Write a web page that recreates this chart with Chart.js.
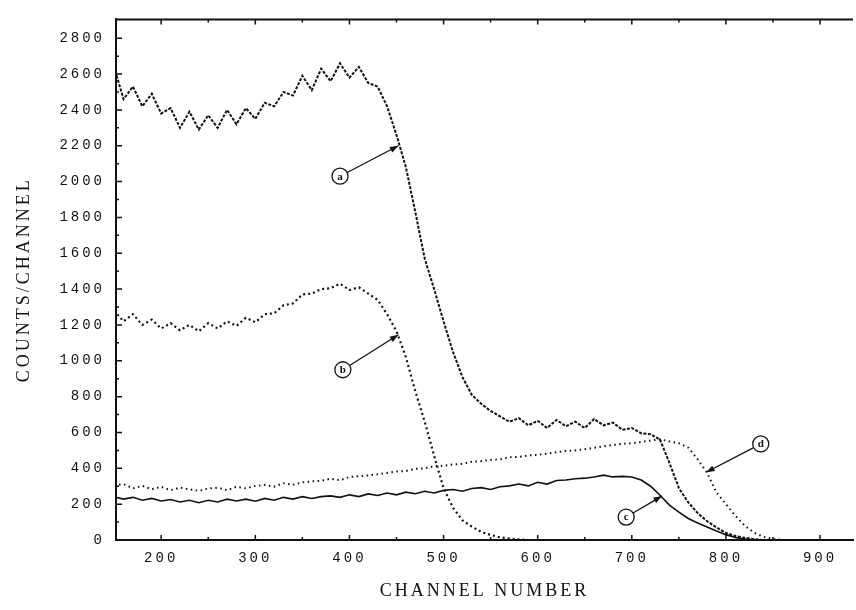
<!DOCTYPE html>
<html>
<head>
<meta charset="utf-8">
<title>Counts per channel</title>
<style>
  html, body { margin: 0; padding: 0; background: #fff; }
  #wrap { width: 856px; height: 610px; position: relative; }
</style>
<script src="https://cdn.jsdelivr.net/npm/chart.js@4.4.1/dist/chart.umd.min.js"></script>
</head>
<body>
<div id="wrap"><canvas id="spectrum"></canvas></div>
<script>
// channel numbers (every 10th channel)
const channels = [
  150, 160, 170, 180, 190, 200, 210, 220, 230, 240,
  250, 260, 270, 280, 290, 300, 310, 320, 330, 340,
  350, 360, 370, 380, 390, 400, 410, 420, 430, 440,
  450, 460, 470, 480, 490, 500, 510, 520, 530, 540,
  550, 560, 570, 580, 590, 600, 610, 620, 630, 640,
  650, 660, 670, 680, 690, 700, 710, 720, 730, 740,
  750, 760, 770, 780, 790, 800, 810, 820, 830, 840,
  850, 860, 870, 880, 890, 900, 910, 920, 930
];

const countsA = [
  2640, 2460, 2530, 2420, 2490, 2380, 2410, 2300, 2390, 2290,
  2370, 2300, 2400, 2320, 2410, 2350, 2440, 2420, 2500, 2480,
  2590, 2510, 2630, 2560, 2660, 2580, 2640, 2550, 2530, 2420,
  2260, 2080, 1830, 1570, 1400, 1220, 1050, 910, 810, 760,
  720, 690, 660, 680, 640, 665, 625, 670, 635, 660,
  625, 675, 640, 655, 615, 625, 595, 590, 560, 430,
  290, 210, 150, 105, 70, 40, 22, 12, 5, 0,
  0, 0, 0, 0, 0, 0, 0, 0, 0
];

const countsB = [
  1280, 1220, 1260, 1200, 1230, 1180, 1210, 1170, 1200, 1165,
  1210, 1180, 1220, 1195, 1240, 1215, 1260, 1265, 1310, 1320,
  1370, 1375, 1400, 1405, 1430, 1395, 1410, 1375, 1340, 1260,
  1165, 1020, 830, 660, 470, 290, 180, 110, 75, 45,
  28, 15, 8, 3, 0, 0, 0, 0, 0, 0,
  0, 0, 0, 0, 0, 0, 0, 0, 0, 0,
  0, 0, 0, 0, 0, 0, 0, 0, 0, 0,
  0, 0, 0, 0, 0, 0, 0, 0, 0
];

const countsC = [
  240, 228, 238, 222, 232, 218, 226, 212, 222, 208,
  222, 212, 228, 218, 228, 216, 232, 222, 238, 228,
  242, 232, 242, 246, 238, 252, 242, 257, 248, 262,
  252, 267, 258, 272, 262, 277, 282, 272, 287, 292,
  282, 297, 302, 312, 302, 322, 312, 332, 335, 342,
  345, 352, 362, 352, 355, 352, 335, 300, 250, 195,
  155, 120, 95, 72, 50, 30, 14, 5, 0, 0,
  0, 0, 0, 0, 0, 0, 0, 0, 0
];

const countsD = [
  305, 312, 288, 302, 283, 297, 278, 292, 283, 274,
  287, 292, 278, 297, 288, 302, 307, 298, 317, 308,
  322, 327, 330, 342, 333, 352, 356, 360, 367, 374,
  382, 385, 397, 400, 412, 414, 422, 425, 437, 440,
  447, 450, 462, 464, 472, 475, 482, 490, 497, 500,
  507, 515, 522, 530, 537, 540, 547, 555, 562, 550,
  540, 515, 450, 375, 265, 200, 135, 80, 40, 18,
  6, 0, 0, 0, 0, 0, 0, 0, 0
];

const xTickLabels = [200, 300, 400, 500, 600, 700, 800, 900];
const yTickLabels = [0, 200, 400, 600, 800, 1000, 1200, 1400, 1600, 1800, 2000, 2200, 2400, 2600, 2800];

// circled curve letters: where the circle sits and where its arrow points (data units)
const curveNotes = [
  { letter: 'a', at: [390, 2030], tip: [452, 2200] },
  { letter: 'b', at: [393, 950], tip: [452, 1145] },
  { letter: 'c', at: [694, 128], tip: [732, 245] },
  { letter: 'd', at: [837, 536], tip: [779, 378] }
];

const ink = '#111';

function series(values) {
  return channels.map((c, i) => ({ x: c, y: values[i] }));
}

// inward tick marks, top frame line and the circled letters with arrows
const framePlugin = {
  id: 'frame',
  beforeDraw(chart) {
    chart.ctx.letterSpacing = '3px';
  },
  afterDraw(chart) {
    const { ctx, chartArea: area, scales: { x, y } } = chart;
    ctx.save();
    ctx.letterSpacing = '0px';
    ctx.strokeStyle = ink;
    ctx.lineWidth = 2;
    ctx.beginPath();
    ctx.moveTo(area.left, area.top);
    ctx.lineTo(area.right, area.top);
    ctx.stroke();

    ctx.lineWidth = 1.5;
    ctx.beginPath();
    for (let v = 200; v <= 900; v += 50) {
      const px = x.getPixelForValue(v);
      const len = v % 100 === 0 ? 5 : 3;
      ctx.moveTo(px, area.bottom);
      ctx.lineTo(px, area.bottom - len);
      ctx.moveTo(px, area.top);
      ctx.lineTo(px, area.top + len);
    }
    for (let v = 0; v <= 2800; v += 100) {
      const py = y.getPixelForValue(v);
      const len = v % 200 === 0 ? 6 : 3;
      ctx.moveTo(area.left, py);
      ctx.lineTo(area.left + len, py);
    }
    ctx.stroke();

    ctx.lineWidth = 1.3;
    ctx.font = 'bold 11px "Liberation Serif"';
    ctx.textAlign = 'center';
    ctx.textBaseline = 'middle';
    ctx.fillStyle = ink;
    curveNotes.forEach(n => {
      const cx = x.getPixelForValue(n.at[0]);
      const cy = y.getPixelForValue(n.at[1]);
      const tx = x.getPixelForValue(n.tip[0]);
      const ty = y.getPixelForValue(n.tip[1]);
      const r = 8;
      const ang = Math.atan2(ty - cy, tx - cx);
      ctx.beginPath();
      ctx.arc(cx, cy, r, 0, Math.PI * 2);
      ctx.stroke();
      ctx.fillText(n.letter, cx, cy + 0.5);
      ctx.beginPath();
      ctx.moveTo(cx + Math.cos(ang) * r, cy + Math.sin(ang) * r);
      ctx.lineTo(tx, ty);
      ctx.stroke();
      ctx.beginPath();
      ctx.moveTo(tx, ty);
      ctx.lineTo(tx - Math.cos(ang - 0.35) * 9, ty - Math.sin(ang - 0.35) * 9);
      ctx.lineTo(tx - Math.cos(ang + 0.35) * 9, ty - Math.sin(ang + 0.35) * 9);
      ctx.closePath();
      ctx.fill();
    });
    ctx.restore();
  }
};

new Chart(document.getElementById('spectrum'), {
  type: 'line',
  data: {
    datasets: [
      { label: 'a', data: series(countsA), borderColor: ink, borderWidth: 2, borderDash: [3, 1.5], pointRadius: 0 },
      { label: 'b', data: series(countsB), borderColor: ink, borderWidth: 2.2, borderDash: [2, 3], pointRadius: 0 },
      { label: 'c', data: series(countsC), borderColor: ink, borderWidth: 1.6, pointRadius: 0 },
      { label: 'd', data: series(countsD), borderColor: ink, borderWidth: 2, borderDash: [1.5, 3.5], pointRadius: 0 }
    ]
  },
  options: {
    responsive: true,
    maintainAspectRatio: false,
    animation: false,
    layout: { padding: { top: 13, right: 3, left: 0, bottom: 0 } },
    plugins: {
      legend: { display: false },
      tooltip: { enabled: false }
    },
    scales: {
      x: {
        type: 'linear',
        min: 152,
        max: 935,
        afterBuildTicks: s => { s.ticks = xTickLabels.map(v => ({ value: v })); },
        afterFit: s => { s.height = 70; },
        grid: { display: false, drawTicks: false },
        border: { display: true, color: ink, width: 2 },
        ticks: {
          color: ink,
          padding: 10,
          maxRotation: 0,
          callback: v => String(v),
          font: { family: '"Liberation Mono"', size: 14 }
        },
        title: {
          display: true,
          text: 'CHANNEL NUMBER',
          color: ink,
          padding: { bottom: 8 },
          font: { family: '"Liberation Serif"', size: 18 }
        }
      },
      y: {
        min: 0,
        max: 2905,
        afterBuildTicks: s => { s.ticks = yTickLabels.map(v => ({ value: v })); },
        afterFit: s => { s.width = 116; },
        grid: { display: false, drawTicks: false },
        border: { display: true, color: ink, width: 2 },
        ticks: {
          color: ink,
          padding: 11,
          callback: v => String(v),
          font: { family: '"Liberation Mono"', size: 14 }
        },
        title: {
          display: true,
          text: 'COUNTS/CHANNEL',
          color: ink,
          padding: { top: 13 },
          font: { family: '"Liberation Serif"', size: 18 }
        }
      }
    }
  },
  plugins: [framePlugin]
});
</script>
</body>
</html>
